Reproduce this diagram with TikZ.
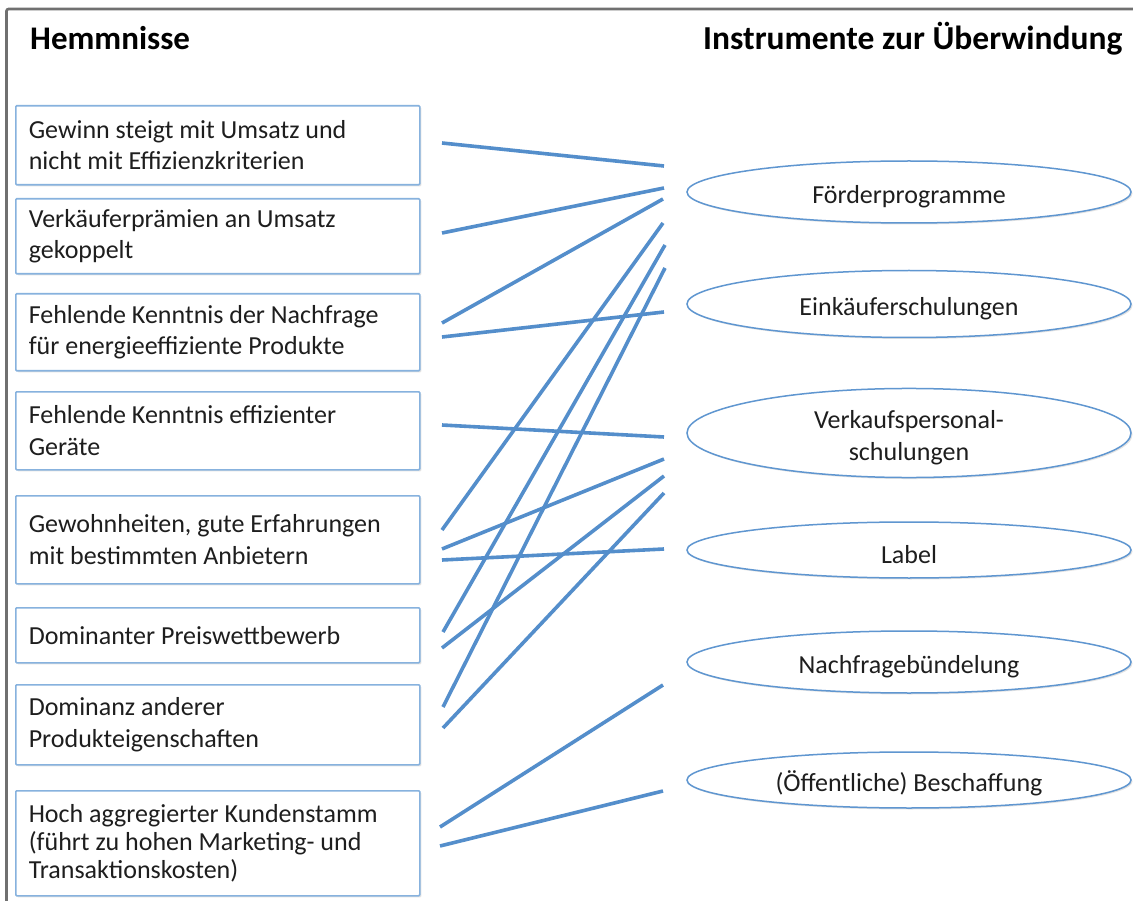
\documentclass[tikz,border=0pt]{standalone}
\usepackage{fontspec}
\setmainfont{Carlito}
\usetikzlibrary{shapes.geometric,shadows}
\definecolor{linkblue}{RGB}{84,142,203}
\definecolor{boxblue}{RGB}{135,178,222}
\definecolor{ellblue}{RGB}{95,150,208}
\definecolor{framegray}{RGB}{112,112,112}
\definecolor{textgray}{RGB}{30,30,30}
% taller first line so the label sits a little below the ellipse centre
\newcommand\lowertext{\rule{0pt}{27pt}}
\tikzset{
  hbox/.style={draw=boxblue, line width=1.6pt, fill=white, rounded corners=1pt,
    anchor=north west, minimum width=404pt, text width=378pt, align=flush left,
    inner xsep=13pt, inner ysep=0pt, text=textgray,
    font=\fontsize{26}{31.5}\selectfont,
    drop shadow={shadow xshift=1.5pt, shadow yshift=-1.5pt, opacity=0.22}},
  ibox/.style={ellipse, draw=ellblue, line width=1.5pt, fill=white,
    minimum width=444pt, inner sep=0pt, align=center, text=textgray,
    font=\fontsize{26}{31.5}\selectfont,
    drop shadow={shadow xshift=1.5pt, shadow yshift=-1.5pt, opacity=0.22}},
  link/.style={draw=linkblue, line width=3.6pt},
  title/.style={anchor=base west, inner sep=0pt, font=\fontsize{33}{40}\selectfont\bfseries}
}
\begin{document}
\begin{tikzpicture}[x=1pt,y=-1pt]
\useasboundingbox (0,0) rectangle (1133,901);
\clip (0,0) rectangle (1133,901);
\fill[white] (0,0) rectangle (1133,901);
% outer frame
\draw[framegray, line width=2.6pt, rounded corners=2pt] (6.5,9) rectangle (1160,930);

% column titles
\node[title] (thl) at (30,50) {Hemmnisse};
\node[title, font=\fontsize{33.5}{40}\selectfont\bfseries] (thr) at (703,50) {Instrumente zur Überwindung};

% obstacles
\node[hbox, minimum height=79pt]  (h1) at (15,105) {Gewinn steigt mit Umsatz und\\nicht mit Effizienzkriterien};
\node[hbox, minimum height=75pt]  (h2) at (15,198) {Verkäuferprämien an Umsatz\\gekoppelt};
\node[hbox, minimum height=77pt]  (h3) at (15,293) {Fehlende Kenntnis der Nachfrage\\für energieeffiziente Produkte};
\node[hbox, minimum height=78pt]  (h4) at (15,391) {Fehlende Kenntnis effizienter\\Geräte};
\node[hbox, minimum height=88pt]  (h5) at (15,495) {Gewohnheiten, gute Erfahrungen\\mit bestimmten Anbietern};
\node[hbox, minimum height=55pt]  (h6) at (15,607) {Dominanter Preiswettbewerb};
\node[hbox, minimum height=80pt]  (h7) at (15,684) {Dominanz anderer\\Produkteigenschaften};
\node[hbox, minimum height=105pt, font=\fontsize{26}{28}\selectfont] (h8) at (15,790)
  {Hoch aggregierter Kundenstamm\\(führt zu hohen Marketing- und\\Transaktionskosten)};

% instruments
\node[ibox, minimum height=62pt] (i1) at (909,192) {\lowertext Förderprogramme};
\node[ibox, minimum height=67pt] (i2) at (909,304) {\lowertext Einkäuferschulungen};
\node[ibox, minimum height=83pt] (i3) at (909,433) {\lowertext Verkaufspersonal-\\schulungen};
\node[ibox, minimum height=56pt] (i4) at (909,550) {\lowertext Label};
\node[ibox, minimum height=62pt] (i5) at (909,662) {\lowertext Nachfragebündelung};
\node[ibox, minimum height=56pt] (i6) at (909,780) {\lowertext (Öffentliche) Beschaffung};

% connector ends, kept clear of the boxes
\coordinate (h1a) at (442,143);  \coordinate (i1a) at (664,166);
\coordinate (h2a) at (442,233);  \coordinate (i1b) at (664,188);
\coordinate (h3a) at (442,323);  \coordinate (i1c) at (663,199);
\coordinate (h3b) at (442,337);  \coordinate (i2a) at (664,312);
\coordinate (h4a) at (442,425);  \coordinate (i3a) at (664,437);
\coordinate (h5a) at (442,530);  \coordinate (i1d) at (663,223);
\coordinate (h5b) at (442,549);  \coordinate (i3b) at (664,459);
\coordinate (h5c) at (442,560);  \coordinate (i4a) at (664,549);
\coordinate (h6a) at (443,632);  \coordinate (i1e) at (665,245);
\coordinate (h6b) at (442,648);  \coordinate (i3c) at (664,476);
\coordinate (h7a) at (443,707);  \coordinate (i1f) at (665,268);
\coordinate (h7b) at (443,728);  \coordinate (i3d) at (664,493);
\coordinate (h8a) at (440,827);  \coordinate (i5a) at (663,685);
\coordinate (h8b) at (440,846);  \coordinate (i6a) at (663,791);

% links between obstacles and instruments
\draw[link] (h1a) -- (i1a);
\draw[link] (h2a) -- (i1b);
\draw[link] (h3a) -- (i1c);
\draw[link] (h3b) -- (i2a);
\draw[link] (h4a) -- (i3a);
\draw[link] (h5a) -- (i1d);
\draw[link] (h5b) -- (i3b);
\draw[link] (h5c) -- (i4a);
\draw[link] (h6a) -- (i1e);
\draw[link] (h6b) -- (i3c);
\draw[link] (h7a) -- (i1f);
\draw[link] (h7b) -- (i3d);
\draw[link] (h8a) -- (i5a);
\draw[link] (h8b) -- (i6a);
\end{tikzpicture}
\end{document}
